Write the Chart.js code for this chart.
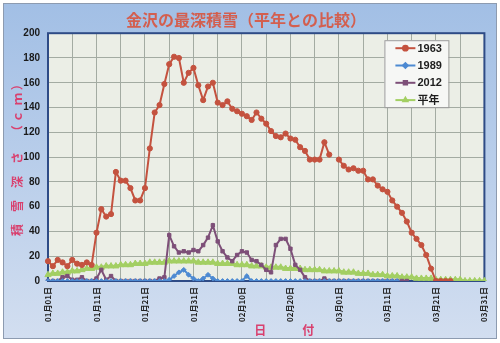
<!DOCTYPE html>
<html lang="ja">
<head>
<meta charset="utf-8">
<title>金沢の最深積雪</title>
<script src="https://cdn.jsdelivr.net/npm/chart.js"></script>
<style>
  html, body { margin: 0; padding: 0; background: #fff; }
  #wrap { width: 500px; height: 343px; }
</style>
</head>
<body>
<div id="wrap"><canvas id="snowChart" width="500" height="343"></canvas></div>
<script>
// 1月〜3月の日数（2012年はうるう年）
const monthDays = [31, 29, 31];
const tickLabels = ['01月01日', '01月11日', '01月21日', '01月31日', '02月10日',
                    '02月20日', '03月01日', '03月11日', '03月21日', '03月31日'];

// 最深積雪 (cm)  1/1 〜 3/31
const snow1963 = [
    16, 12, 17, 15, 12, 17, 14, 13, 15, 13,
    39, 58, 52, 54, 88, 81, 81, 75, 65, 65,
    75, 107, 136, 142, 159, 175, 181, 180, 160, 168,
    172, 158, 146, 157, 160, 144, 142, 145, 139, 137,
    135, 133, 130, 136, 131, 127, 121, 117, 116, 119,
    115, 114, 108, 105, 98, 98, 98, 112, 102, null,
    98, 93, 90, 91, 89, 89, 82, 82, 77, 74,
    72, 65, 60, 55, 48, 39, 34, 29, 21, 10,
    0, 0, 0, 0, null, null, null, null, null, null, null
];
const snow1989 = [
    0, 0, 0, 0, 0, 0, 0, 0, 0, 0,
    0, 0, 0, 0, 0, 0, 0, 0, 0, 0,
    0, 0, 0, 0, 0, 1, 4, 7, 9, 5,
    2, 0, 2, 5, 2, 0, 0, 0, 0, 0,
    0, 4, 0, 0, 0, 0, 0, 0, 0, 0,
    0, 0, 0, 0, 0, 0, 0, 0, 0, 0,
    0, 0, 0, 0, 0, 0, 0, 0, 0, 0,
    0, 0, 0, null, null, null, null, null, null, null,
    null, null, null, null, null, null, null, null, null, null, null
];
const snow2012 = [
    0, 0, 0, 3, 4, 1, 1, 3, 0, 0,
    2, 9, 1, 4, 0, 0, 0, 0, 0, 0,
    0, 0, 0, 2, 3, 37, 28, 23, 24, 23,
    25, 24, 29, 35, 45, 32, 24, 19, 16, 21,
    24, 23, 17, 16, 13, 9, 7, 29, 34, 34,
    26, 13, 9, 3, 0, 0, 0, 2, 0, 0,
    0, 0, 0, 0, 0, 0, 0, 0, 0, 0,
    0, 0, 0, 0, 0, null, null, null, null, null,
    null, null, null, null, null, null, null, null, null, null, null
];
const snowNormal = [
    5, 6, 6, 7, 7, 8, 8, 9, 10, 10,
    11, 11, 12, 12, 12, 13, 13, 13, 14, 14,
    14, 15, 15, 15, 15, 16, 16, 16, 16, 16,
    16, 15, 15, 15, 15, 14, 14, 14, 14, 13,
    13, 13, 12, 12, 12, 11, 11, 11, 11, 10,
    10, 10, 10, 9, 9, 9, 9, 8, 8, 8,
    8, 7, 7, 7, 6, 6, 6, 5, 5, 5,
    4, 4, 4, 3, 3, 3, 2, 2, 2, 2,
    1, 1, 1, 1, 1, 1, 0, 0, 0, 0, 0
];

// 日付ラベル "01月01日" 形式
const days = [];
monthDays.forEach((n, m) => {
    for (let d = 1; d <= n; d++) {
        days.push(String(m + 1).padStart(2, '0') + '月' + String(d).padStart(2, '0') + '日');
    }
});

const GRID = '#a3aba2';
const FRAME_TOP = '#a2bfe5';
const FRAME_BOTTOM = '#d2def0';
const PLOT_BG = '#ebeee6';
const PLOT_BORDER = '#2e4b86';
const AXIS_TITLE = '#d9406e';

// 外枠・プロット領域の背景
const backgroundPlugin = {
    id: 'background',
    beforeDraw(chart) {
        const {ctx, width, height, chartArea: a} = chart;
        ctx.save();
        ctx.fillStyle = '#ffffff';
        ctx.fillRect(0, 0, width, height);
        const g = ctx.createLinearGradient(0, 4, 0, height - 5);
        g.addColorStop(0, FRAME_TOP);
        g.addColorStop(1, FRAME_BOTTOM);
        ctx.fillStyle = g;
        ctx.fillRect(4, 4, width - 8, height - 9);
        ctx.strokeStyle = '#8d9bb0';
        ctx.lineWidth = 1;
        ctx.strokeRect(3.5, 3.5, width - 7, height - 8);
        ctx.fillStyle = PLOT_BG;
        ctx.fillRect(a.left, a.top, a.width, a.height);
        ctx.restore();
    },
    beforeDatasetsDraw(chart) {
        const {ctx, chartArea: a} = chart;
        ctx.save();
        ctx.strokeStyle = PLOT_BORDER;
        ctx.lineWidth = 2;
        ctx.strokeRect(a.left, a.top, a.width, a.height);
        ctx.restore();
    }
};

// 右上の凡例（枠付き）
const legendBoxPlugin = {
    id: 'legendBox',
    afterDatasetsDraw(chart) {
        const {ctx, chartArea: a} = chart;
        const bx = a.right - 100, by = a.top + 7, bw = 64, bh = 67;
        ctx.save();
        ctx.fillStyle = '#f6f7f5';
        ctx.fillRect(bx, by, bw, bh);
        ctx.strokeStyle = '#9c9c9c';
        ctx.lineWidth = 1;
        ctx.strokeRect(bx + 0.5, by + 0.5, bw, bh);

        chart.data.datasets.forEach((ds, i) => {
            const y = by + 8 + i * 17.3;
            ctx.strokeStyle = ds.borderColor;
            ctx.lineWidth = 2;
            ctx.beginPath();
            ctx.moveTo(bx + 11, y);
            ctx.lineTo(bx + 31, y);
            ctx.stroke();
            ctx.fillStyle = ds.backgroundColor;
            ctx.strokeStyle = ds.borderColor;
            Chart.helpers.drawPoint(ctx, {
                pointStyle: ds.pointStyle, radius: 2.4, borderWidth: 1, rotation: 0
            }, bx + 21, y);
            ctx.fillStyle = '#1e1e1e';
            ctx.font = 'bold 11px "Liberation Sans", "Noto Sans CJK JP", sans-serif';
            ctx.textAlign = 'left';
            ctx.textBaseline = 'middle';
            ctx.fillText(ds.label, bx + 33, y + 0.5);
        });
        ctx.restore();
    }
};

function makeSeries(label, data, color, style, radius, width) {
    return {
        label: label,
        data: data,
        borderColor: color,
        backgroundColor: color,
        borderWidth: width,
        pointStyle: style,
        pointRadius: radius,
        pointBorderWidth: 1,
        pointHoverRadius: radius,
        tension: 0,
        spanGaps: false
    };
}

const ctx = document.getElementById('snowChart');
const config = {
    type: 'line',
    data: {
        labels: days,
        datasets: [
            makeSeries('1963', snow1963, '#c4523f', 'circle', 2.6, 2),
            makeSeries('1989', snow1989, '#4d8ad2', 'rectRot', 2.4, 2),
            makeSeries('2012', snow2012, '#7d4f78', 'rect', 2.4, 2),
            makeSeries('平年', snowNormal, '#a3cf63', 'triangle', 3.6, 3)
        ]
    },
    options: {
        responsive: false,
        animation: false,
        layout: { padding: { top: 4, left: 0, right: 8, bottom: 0 } },
        plugins: {
            legend: { display: false },
            tooltip: { enabled: false },
            title: {
                display: true,
                text: '金沢の最深積雪（平年との比較）',
                color: '#d35f4f',
                font: { family: '"Noto Sans CJK JP", sans-serif', size: 16, weight: 'bold' },
                padding: { top: 6, bottom: 4 }
            }
        },
        scales: {
            x: {
                grid: {
                    drawTicks: false,
                    color: (c) => (c.index % 5 === 0 ? GRID : 'transparent'),
                    lineWidth: 1
                },
                border: { display: false },
                ticks: {
                    autoSkip: false,
                    minRotation: 90,
                    maxRotation: 90,
                    padding: 6,
                    color: '#222',
                    font: { family: '"Noto Sans CJK JP", sans-serif', size: 8, weight: 'bold' },
                    callback: function (value) {
                        const lab = this.getLabelForValue(value);
                        return tickLabels.includes(lab) ? lab : '';
                    }
                },
                title: {
                    display: true,
                    text: '　　　日　　　付',
                    color: AXIS_TITLE,
                    font: { family: '"Noto Sans CJK JP", sans-serif', size: 12, weight: 'bold' },
                    padding: { top: 0, bottom: 5 }
                },
                afterFit: (scale) => { scale.height = 62; }
            },
            y: {
                min: 0,
                max: 200,
                grid: { drawTicks: false, color: GRID, lineWidth: 1 },
                border: { display: false },
                ticks: {
                    stepSize: 20,
                    padding: 8,
                    color: '#1a1a1a',
                    font: { family: '"Liberation Sans", sans-serif', size: 10, weight: 'bold' }
                },
                title: {
                    display: true,
                    text: '積　雪　深　さ　 （ ｃ  ｍ ）',
                    color: AXIS_TITLE,
                    font: { family: '"Noto Sans CJK JP", sans-serif', size: 12, weight: 'bold' },
                    padding: { top: 10, bottom: 0 }
                },
                afterFit: (scale) => { scale.width = 48; }
            }
        }
    },
    plugins: [backgroundPlugin, legendBoxPlugin]
};

const snowChart = new Chart(ctx, config);
</script>
</body>
</html>
